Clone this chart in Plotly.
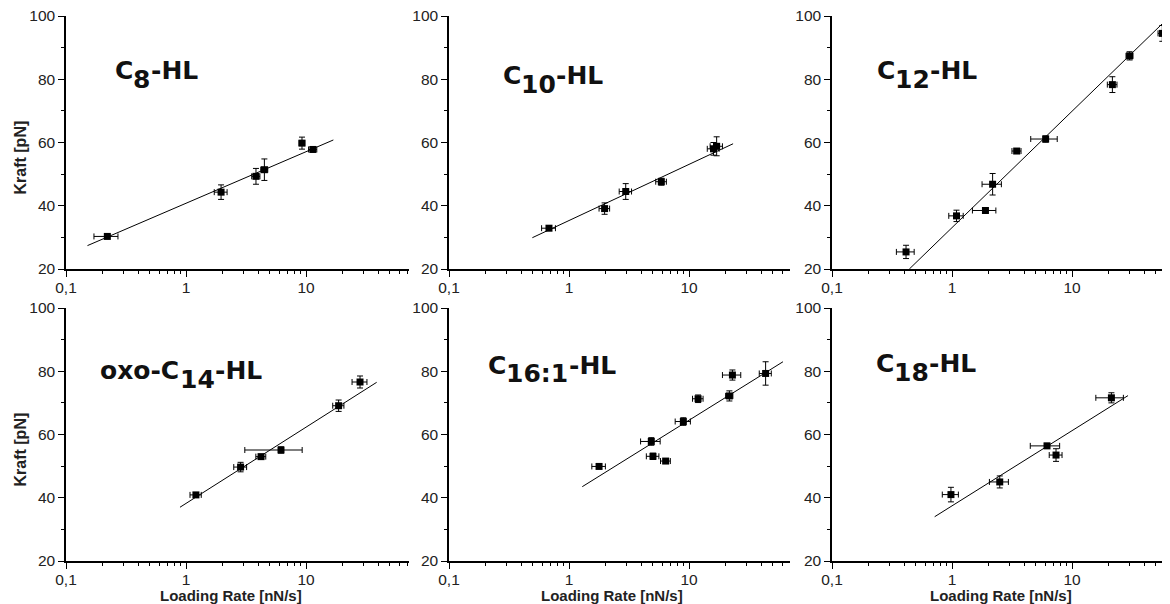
import plotly.graph_objects as go

# page body has an 8px margin, so the figure is drawn at (8, 8)
OFF = 8
W, H = 1170 - OFF, 604 - OFF

# ---------------- data ----------------
# panel labels: (text, is_subscript) segments
labels = [
    [("C", False), ("8", True), ("-HL", False)],
    [("C", False), ("10", True), ("-HL", False)],
    [("C", False), ("12", True), ("-HL", False)],
    [("oxo-C", False), ("14", True), ("-HL", False)],
    [("C", False), ("16:1", True), ("-HL", False)],
    [("C", False), ("18", True), ("-HL", False)],
]

c8_rate = [0.221, 1.96, 3.83, 4.50, 9.26, 11.4]
c8_force = [30.3, 44.3, 49.3, 51.4, 59.8, 57.8]
c8_rate_err = [0.05, 0.24, 0.3, 0.3, 0.5, 0.9]
c8_force_err = [0.5, 2.3, 2.5, 3.4, 1.9, 0.8]
c8_fit_x = [0.151, 16.9]
c8_fit_y = [27.4, 60.8]

c10_rate = [0.681, 1.98, 2.97, 5.88, 16.0, 17.0]
c10_force = [32.9, 39.1, 44.5, 47.6, 58.0, 58.8]
c10_rate_err = [0.09, 0.2, 0.35, 0.6, 1.8, 2.0]
c10_force_err = [0.7, 1.8, 2.5, 1.1, 2.0, 3.0]
c10_fit_x = [0.495, 23.3]
c10_fit_y = [29.9, 59.6]

c12_rate = [0.414, 1.09, 1.90, 2.18, 3.46, 6.03, 21.7, 30.2, 56.6]
c12_force = [25.4, 36.8, 38.5, 46.8, 57.3, 61.1, 78.3, 87.4, 94.5]
c12_rate_err = [0.07, 0.15, 0.42, 0.4, 0.3, 1.5, 2.0, 2.0, 4.5]
c12_force_err = [2.1, 1.8, 0.4, 3.4, 0.6, 1.0, 2.5, 1.3, 2.5]
c12_fit_x = [0.441, 65.9]
c12_fit_y = [20.0, 100.0]

c14_rate = [1.21, 2.85, 4.22, 6.19, 18.7, 28.2]
c14_force = [40.9, 49.7, 53.0, 55.1, 69.1, 76.6]
c14_rate_err = [0.13, 0.35, 0.4, 3.1, 2.0, 4.0]
c14_force_err = [0.7, 1.5, 0.7, 1.0, 1.8, 1.9]
c14_fit_x = [0.891, 38.8]
c14_fit_y = [37.0, 76.5]

c16_rate = [1.78, 4.85, 5.01, 6.39, 8.97, 11.9, 21.7, 23.0, 43.5]
c16_force = [49.9, 57.8, 53.1, 51.6, 64.1, 71.3, 72.2, 78.8, 79.3]
c16_rate_err = [0.23, 0.9, 0.6, 0.6, 1.3, 1.2, 1.5, 4.0, 5.0]
c16_force_err = [0.5, 1.2, 1.0, 0.6, 1.2, 1.2, 1.6, 1.6, 3.7]
c16_fit_x = [1.29, 60.7]
c16_fit_y = [43.5, 83.0]

c18_rate = [0.98, 2.50, 6.19, 7.36, 21.3]
c18_force = [41.0, 45.0, 56.4, 53.5, 71.6]
c18_rate_err = [0.15, 0.45, 1.7, 0.9, 5.5]
c18_force_err = [2.3, 1.9, 0.8, 2.0, 1.6]
c18_fit_x = [0.717, 29.3]
c18_fit_y = [34.0, 72.3]

x_tickvals = [0.1, 1, 10]
x_ticktext = ["0,1", "1", "10"]
x_minor = [0.2, 0.3, 0.4, 0.5, 0.6, 0.7, 0.8, 0.9,
           2, 3, 4, 5, 6, 7, 8, 9, 20, 30, 40, 50, 60, 70]
y_tickvals = [20, 40, 60, 80, 100]
y_minor = [30, 50, 70, 90]

x_title = "Loading Rate [nN/s]"
y_title = "Kraft [pN]"

series = [
    (c8_rate, c8_force, c8_rate_err, c8_force_err, c8_fit_x, c8_fit_y),
    (c10_rate, c10_force, c10_rate_err, c10_force_err, c10_fit_x, c10_fit_y),
    (c12_rate, c12_force, c12_rate_err, c12_force_err, c12_fit_x, c12_fit_y),
    (c14_rate, c14_force, c14_rate_err, c14_force_err, c14_fit_x, c14_fit_y),
    (c16_rate, c16_force, c16_rate_err, c16_force_err, c16_fit_x, c16_fit_y),
    (c18_rate, c18_force, c18_rate_err, c18_force_err, c18_fit_x, c18_fit_y),
]

# ---------------- layout geometry (window pixels) ----------------
col_left = [66, 449, 832]
col_right = [409, 790, 1170]
row_top = [16, 308]
row_bot = [269, 561]
px_per_decade = 120.0
label_pos = [(114, 70), (502, 75), (876, 70), (99, 370), (487, 365), (875, 363)]
xtitle_center = [231, 612, 1001]
ytitle_offset = 15
LABEL_SIZE = 25
SUB_SHIFT = 9

# approx. glyph advance widths (em) of DejaVu Sans Bold
GLYPH_W = {"C": 0.734, "H": 0.837, "L": 0.637, "-": 0.416, ":": 0.400,
           "o": 0.687, "x": 0.677}
DIGIT_W = 0.696


def text_width(s, size):
    return sum(GLYPH_W.get(ch, DIGIT_W) for ch in s) * size


def px2x(px):
    return (px - OFF) / W


def px2y(py):
    return 1 - (py - OFF) / H


FONT = "Liberation Sans, Arial, sans-serif"
LABEL_FONT = "DejaVu Sans, Liberation Sans, sans-serif"
fig = go.Figure()
layout = dict(
    width=W, height=H,
    margin=dict(l=0, r=0, t=0, b=0),
    paper_bgcolor="white", plot_bgcolor="white",
    showlegend=False,
    font=dict(family=FONT, color="#222"),
)
annotations = []

for i, (xs, ys, xe, ye, fx, fy) in enumerate(series):
    r, c = divmod(i, 3)
    n = i + 1
    xa = "x" if n == 1 else f"x{n}"
    ya = "y" if n == 1 else f"y{n}"
    fig.add_trace(go.Scatter(
        x=fx, y=fy, mode="lines", xaxis=xa, yaxis=ya,
        line=dict(color="black", width=1), hoverinfo="skip"))
    fig.add_trace(go.Scatter(
        x=xs, y=ys, mode="markers", xaxis=xa, yaxis=ya, cliponaxis=False,
        marker=dict(symbol="square", size=7, color="black"),
        error_x=dict(type="data", array=xe, color="black", thickness=1, width=3),
        error_y=dict(type="data", array=ye, color="black", thickness=1, width=3)))
    wpx = min(col_right[c], OFF + W) - col_left[c]
    xmax = -1 + wpx / px_per_decade
    ax_common = dict(
        showline=True, linecolor="black", linewidth=1.5, showgrid=False,
        zeroline=False, ticks="outside", ticklen=6, tickwidth=1, tickcolor="black",
        tickfont=dict(size=15.5, family=FONT, color="#222"), automargin=False,
        ticklabeloverflow="allow",
    )
    layout["xaxis" if n == 1 else f"xaxis{n}"] = dict(
        ax_common, type="log", range=[-1, xmax],
        domain=[px2x(col_left[c]), min(1.0, px2x(col_right[c]))],
        anchor=ya, tickmode="array", tickvals=x_tickvals, ticktext=x_ticktext,
        ticklabelstandoff=-2,
        minor=dict(tickmode="array", tickvals=x_minor, ticks="outside",
                   ticklen=3, tickcolor="black", showgrid=False),
    )
    layout["yaxis" if n == 1 else f"yaxis{n}"] = dict(
        ax_common, range=[20, 100],
        domain=[px2y(row_bot[r]), px2y(row_top[r])],
        anchor=xa, tickmode="array", tickvals=y_tickvals,
        minor=dict(tickmode="array", tickvals=y_minor, ticks="outside",
                   ticklen=3, tickcolor="black", showgrid=False),
    )
    # panel label, built from segments so the subscript keeps full size
    lx, ly = label_pos[i]
    cursor = lx
    for seg, is_sub in labels[i]:
        annotations.append(dict(
            text=f"<b>{seg}</b>", x=px2x(cursor),
            y=px2y(ly + (SUB_SHIFT if is_sub else 0)),
            xref="paper", yref="paper", xanchor="left", yanchor="middle",
            showarrow=False, borderpad=0,
            font=dict(size=LABEL_SIZE, family=LABEL_FONT, color="#111")))
        cursor += text_width(seg, LABEL_SIZE)
    if c == 0:
        annotations.append(dict(
            text=f"<b>{y_title}</b>", x=px2x(20),
            y=px2y((row_top[r] + row_bot[r]) / 2 + ytitle_offset),
            xref="paper", yref="paper", textangle=-90, showarrow=False,
            xanchor="center", yanchor="middle",
            font=dict(size=16, family=FONT, color="#222")))
    if r == 1:
        annotations.append(dict(
            text=f"<b>{x_title}</b>", x=px2x(xtitle_center[c]),
            y=px2y(595), xref="paper", yref="paper", showarrow=False,
            xanchor="center", yanchor="middle", borderpad=0,
            font=dict(size=15, family=FONT, color="#222")))

layout["annotations"] = annotations
fig.update_layout(**layout)
fig.write_html("out.html")
